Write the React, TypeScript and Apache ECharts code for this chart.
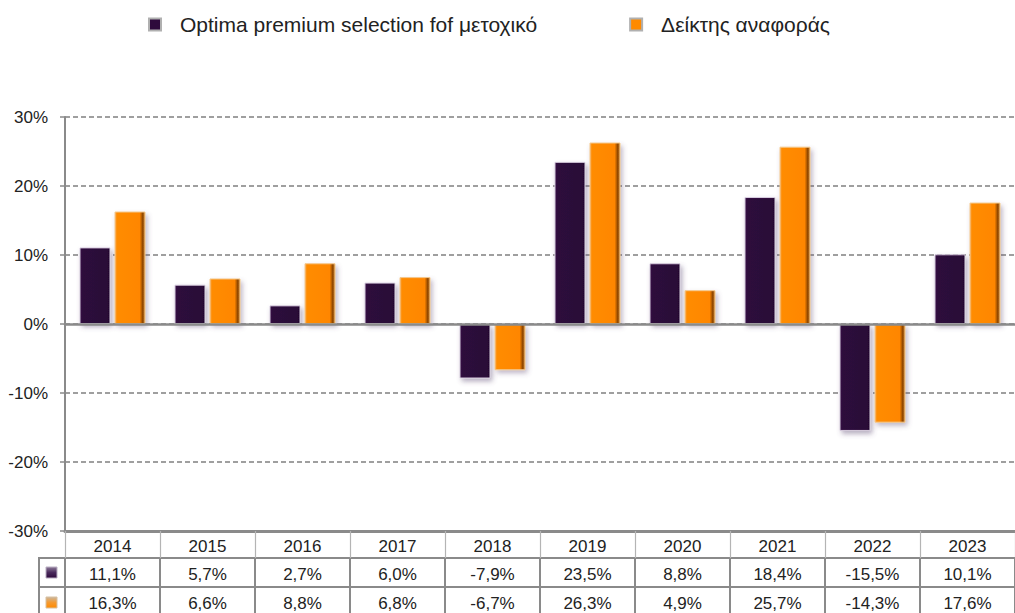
import React, { useEffect, useRef } from "react";
import * as echarts from "echarts";

const years = ["2014", "2015", "2016", "2017", "2018", "2019", "2020", "2021", "2022", "2023"];
const fundReturns = [11.1, 5.7, 2.7, 6.0, -7.9, 23.5, 8.8, 18.4, -15.5, 10.1];
const benchmarkReturns = [16.3, 6.6, 8.8, 6.8, -6.7, 26.3, 4.9, 25.7, -14.3, 17.6];
const seriesNames = ["Optima premium selection fof μετοχικό", "Δείκτης αναφοράς"];
const yMin = -30;
const yMax = 30;
const yStep = 10;

const FONT = "'Liberation Sans', Arial, Helvetica, sans-serif";
const GRID_LEFT = 65;
const GRID_TOP = 117;
const GRID_W = 965;
const GRID_H = 414;
const LINE = "#8a8a8a";

const fmt = (v: number) => v.toFixed(1).replace(".", ",") + "%";

const purpleFill = new echarts.graphic.LinearGradient(0, 0, 1, 0, [
  { offset: 0, color: "#3a1448" },
  { offset: 0.1, color: "#2d093b" },
  { offset: 0.9, color: "#2b0838" },
  { offset: 1, color: "#1e0528" },
]);
const orangeFill = new echarts.graphic.LinearGradient(0, 0, 1, 0, [
  { offset: 0, color: "#f9a74a" },
  { offset: 0.07, color: "#ff8c00" },
  { offset: 0.82, color: "#ff8600" },
  { offset: 0.92, color: "#8f4600" },
  { offset: 1, color: "#c9822f" },
]);

export default function App() {
  const ref = useRef<HTMLDivElement>(null);
  useEffect(() => {
    if (!ref.current) return;
    const chart = echarts.init(ref.current, undefined, { renderer: "svg" });
    const tableAxis = (
      labels: (i: number) => string,
      offset: number,
      tickLen: number,
      lineWidth: number,
      tickColor: string,
      tickWidth: number,
      margin: number
    ) => ({
      type: "category",
      data: years,
      gridIndex: 0,
      position: "bottom",
      offset,
      boundaryGap: true,
      axisLine: { show: true, onZero: false, lineStyle: { color: LINE, width: lineWidth } },
      axisTick: {
        show: true,
        inside: false,
        length: tickLen,
        interval: 0,
        alignWithLabel: false,
        lineStyle: { color: tickColor, width: tickWidth },
      },
      axisLabel: {
        show: true,
        interval: 0,
        margin,
        color: "#222",
        fontSize: 17,
        fontFamily: FONT,
        formatter: (_v: string, i: number) => labels(i),
      },
      splitLine: { show: false },
    });

    const option: any = {
      animation: false,
      backgroundColor: "#ffffff",
      textStyle: { fontFamily: FONT },
      legend: {
        left: 143,
        top: 9,
        itemWidth: 12,
        itemHeight: 12,
        itemGap: 92,
        icon: "rect",
        selectedMode: false,
        textStyle: { fontSize: 21, color: "#222", fontFamily: FONT, padding: [0, 0, 0, 14] },
        data: [
          { name: seriesNames[0], itemStyle: { color: "#2e0a3c", borderColor: "#b0b0b0", borderWidth: 2 } },
          { name: seriesNames[1], itemStyle: { color: "#ff8a00", borderColor: "#b0b0b0", borderWidth: 2 } },
        ],
      },
      grid: { left: GRID_LEFT, top: GRID_TOP, width: GRID_W, height: GRID_H, containLabel: false },
      xAxis: [
        {
          type: "category",
          data: years,
          boundaryGap: true,
          axisLine: { show: true, onZero: true, lineStyle: { color: LINE, width: 2.5 } },
          axisTick: { show: false },
          axisLabel: { show: false },
          splitLine: { show: false },
          z: 5,
        },
        tableAxis((i) => years[i], 0, 27, 3, "#b4b4b4", 1.2, 7),
        tableAxis((i) => fmt(fundReturns[i]), 27, 29, 2, LINE, 2, 8),
        tableAxis((i) => fmt(benchmarkReturns[i]), 56, 32, 2, LINE, 2, 8),
      ],
      yAxis: {
        type: "value",
        min: yMin,
        max: yMax,
        interval: yStep,
        axisLine: { show: true, lineStyle: { color: LINE, width: 2 } },
        axisTick: { show: true, length: 5, lineStyle: { color: LINE, width: 1.5 } },
        axisLabel: {
          margin: 17,
          color: "#222",
          fontSize: 17,
          fontFamily: FONT,
          formatter: (v: number) => `${v}%`,
        },
        splitLine: { show: true, lineStyle: { color: "#808080", width: 1.5, type: [5, 3] } },
      },
      series: [
        {
          name: seriesNames[0],
          type: "bar",
          xAxisIndex: 0,
          data: fundReturns,
          barWidth: 31,
          barGap: "13%",
          itemStyle: {
            color: purpleFill,
            borderColor: "#d9cfe0",
            borderWidth: 1,
            shadowColor: "rgba(95,75,115,0.45)",
            shadowBlur: 5,
            shadowOffsetX: 2,
            shadowOffsetY: 3,
          },
        },
        {
          name: seriesNames[1],
          type: "bar",
          xAxisIndex: 0,
          data: benchmarkReturns,
          barWidth: 31,
          barGap: "13%",
          itemStyle: {
            color: orangeFill,
            borderColor: "#f4c88c",
            borderWidth: 1,
            shadowColor: "rgba(95,75,115,0.4)",
            shadowBlur: 5,
            shadowOffsetX: 2,
            shadowOffsetY: 3,
          },
        },
      ],
      graphic: [
        { type: "line", shape: { x1: 39, y1: 558, x2: 65, y2: 558 }, style: { stroke: LINE, lineWidth: 2 } },
        { type: "line", shape: { x1: 39, y1: 587, x2: 65, y2: 587 }, style: { stroke: LINE, lineWidth: 2 } },
        { type: "line", shape: { x1: 39, y1: 557, x2: 39, y2: 613 }, style: { stroke: LINE, lineWidth: 2 } },
        {
          type: "rect",
          shape: { x: 46, y: 567, width: 11, height: 11 },
          style: {
            fill: new echarts.graphic.LinearGradient(0, 0, 0, 1, [
              { offset: 0, color: "#8c7a98" },
              { offset: 0.5, color: "#4a2a5c" },
              { offset: 1, color: "#2e0a3c" },
            ]),
            stroke: "#b9aec2",
            lineWidth: 1,
          },
        },
        {
          type: "rect",
          shape: { x: 46, y: 597, width: 11, height: 11 },
          style: {
            fill: new echarts.graphic.LinearGradient(0, 0, 0, 1, [
              { offset: 0, color: "#c9b7a0" },
              { offset: 0.5, color: "#f59a30" },
              { offset: 1, color: "#ff8a00" },
            ]),
            stroke: "#d8c0a0",
            lineWidth: 1,
          },
        },
      ],
    };
    chart.setOption(option);
    return () => chart.dispose();
  }, []);
  return (
    <div
      ref={ref}
      style={{ position: "absolute", left: 0, top: 0, width: 1015, height: 613, background: "#fff" }}
    />
  );
}
